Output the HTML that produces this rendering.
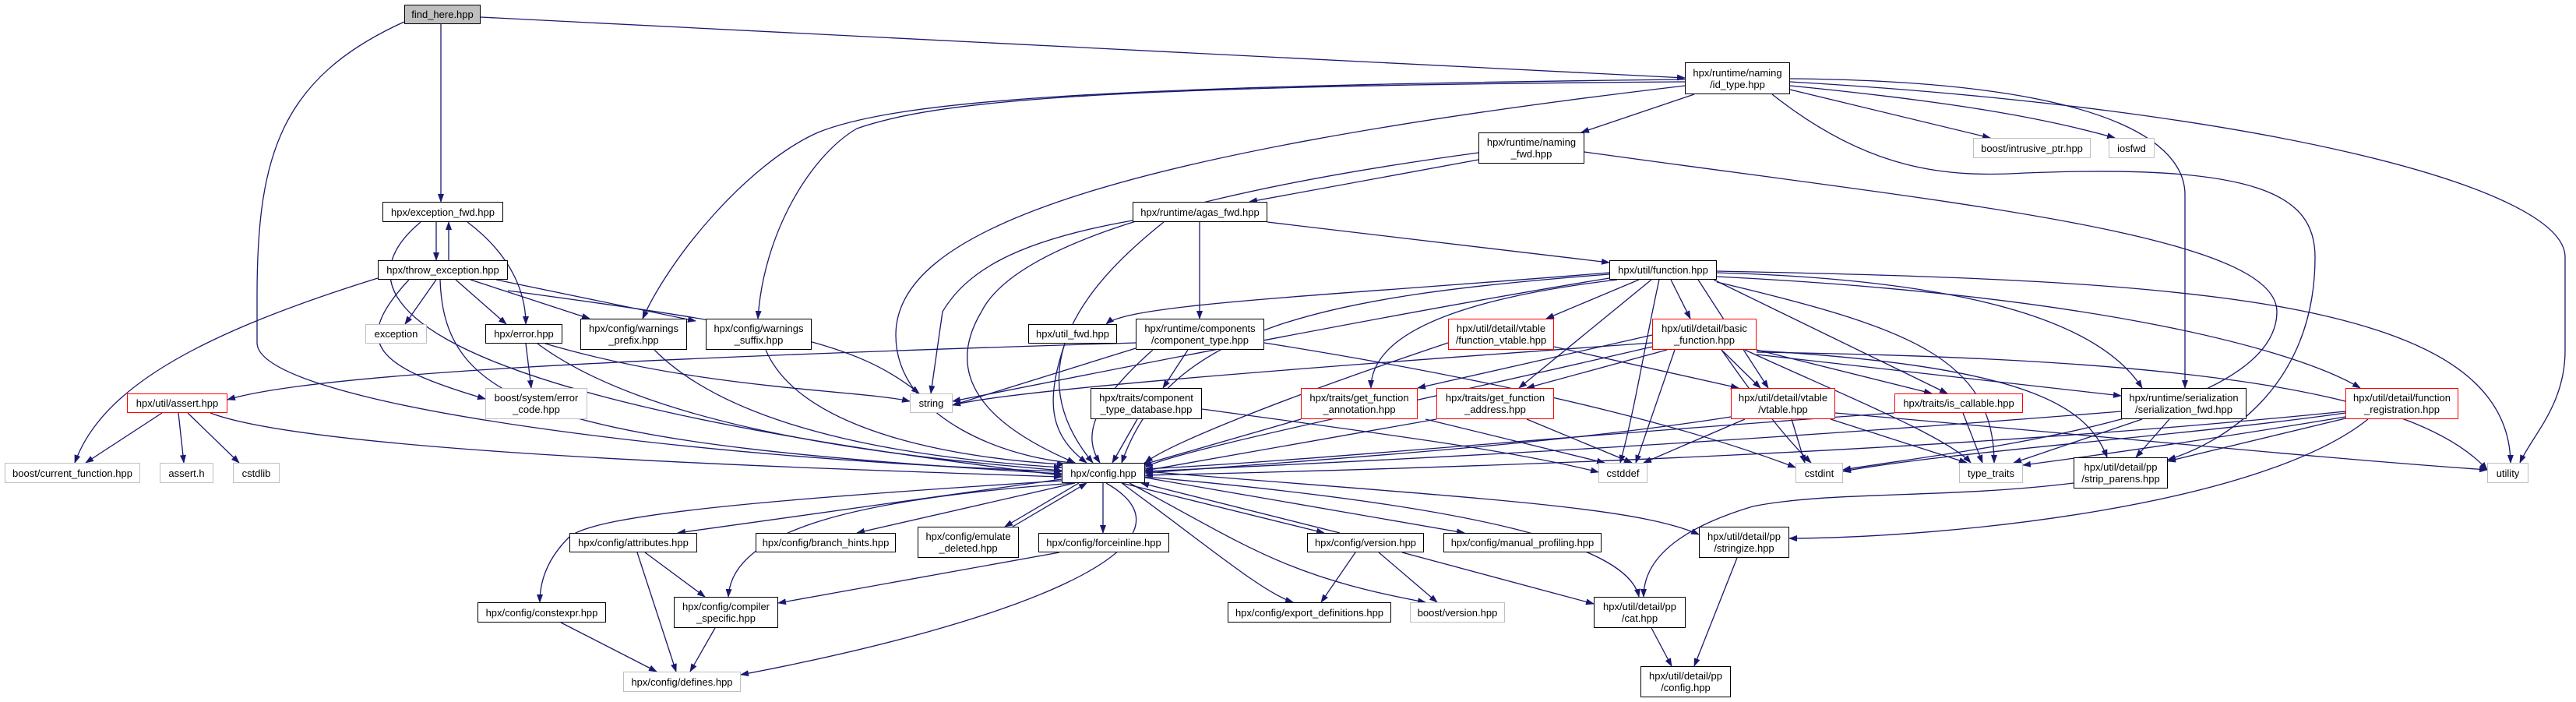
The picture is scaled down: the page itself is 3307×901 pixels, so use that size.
<!DOCTYPE html>
<html><head><meta charset="utf-8"><style>
html,body{margin:0;padding:0;background:#fff;}
body{width:3307px;height:901px;position:relative;overflow:hidden;font-family:"Liberation Sans",sans-serif;}
.n{position:absolute;box-sizing:border-box;border:1.5px solid #000;background:#fff;display:flex;align-items:center;justify-content:center;text-align:center;font-size:13px;line-height:15px;color:#000;white-space:nowrap;}
.g{border-color:#bfbfbf;}
.r{border-color:#ff0000;}
svg{position:absolute;left:0;top:0;}
</style></head><body>
<svg width="3307" height="901" viewBox="0 0 3307 901">
<defs><marker id="a" markerWidth="11" markerHeight="8" refX="10" refY="4" orient="auto" markerUnits="userSpaceOnUse"><path d="M0,0 L11,4 L0,8 z" fill="#191970"/></marker></defs>
<g fill="none" stroke="#191970" stroke-width="1.3" marker-end="url(#a)">
<path d="M566,31 L566,259"/>
<path d="M519,28 C360,100 330,200 330,380 L330,440 C330,520 900,590 1363,605"/>
<path d="M617,22 L2163,100"/>
<path d="M560,285 L560,334"/><path d="M576,334 L576,285"/>
<path d="M600,285 C660,330 675,380 675,416"/>
<path d="M540,285 C450,360 440,500 1363,610"/>
<path d="M560,359 L520,416"/><path d="M585,359 L650,416"/>
<path d="M604,359 L757,409"/><path d="M637,359 L893,412"/>
<path d="M652,373 C1000,420 1100,440 1180,505"/>
<path d="M485,357 C250,430 130,500 96,594"/>
<path d="M525,359 C450,440 480,470 623,512"/>
<path d="M565,359 C570,520 700,570 1363,608"/>
<path d="M675,441 L682,498"/>
<path d="M700,441 C900,500 1100,500 1168,515"/>
<path d="M690,441 C850,560 1200,590 1363,604"/>
<path d="M840,449 C950,560 1200,590 1363,600"/>
<path d="M983,449 C1030,560 1250,590 1367,596"/>
<path d="M208,530 L110,594"/><path d="M229,530 L236,594"/><path d="M241,530 L307,594"/>
<path d="M270,530 C400,580 1000,600 1363,612"/>
<path d="M2298,115 L2555,177"/>
<path d="M2298,110 C2500,130 2620,150 2715,177"/>
<path d="M2175,121 L2030,170"/>
<path d="M2163,102 C1400,110 1150,130 1050,170 C960,210 860,330 825,409"/>
<path d="M2163,105 C1400,110 1200,130 1100,165 C1040,200 980,300 973,409"/>
<path d="M2163,110 C1400,200 1150,300 1150,430 C1150,540 1300,590 1380,594"/>
<path d="M2298,101 C2750,105 2805,200 2805,250 L2805,498"/>
<path d="M2275,121 C2400,220 2500,228 2600,222 C2900,210 2972,250 2972,330 C2972,500 2850,570 2783,590"/>
<path d="M2298,105 C2900,140 3293,240 3293,330 L3293,450 C3293,520 3250,560 3235,594"/>
<path d="M1898,205 L1604,259"/>
<path d="M1898,196 C1500,250 1300,320 1260,400 C1200,500 1300,560 1380,594"/>
<path d="M2034,195 C2500,260 2923,300 2923,400 C2923,540 2500,580 2366,603"/>
<path d="M1454,283 C1300,310 1240,350 1210,400 L1195,505"/>
<path d="M1627,285 L2066,337"/>
<path d="M1540,285 L1540,409"/>
<path d="M1494,285 C1400,360 1300,470 1403,594"/>
<path d="M2066,350 C1700,380 1450,390 1420,416"/>
<path d="M2104,359 L1985,409"/><path d="M2145,359 L2170,409"/>
<path d="M2066,352 C1700,380 1500,420 1440,594"/>
<path d="M2076,359 C1900,380 1760,420 1760,498"/>
<path d="M2120,359 L1950,498"/><path d="M2180,359 L2270,498"/><path d="M2200,359 L2500,505"/>
<path d="M2204,350 C2550,360 2700,420 2750,498"/>
<path d="M2204,355 C2700,380 2950,450 3030,498"/>
<path d="M2204,348 C2800,360 3220,380 3223,594"/>
<path d="M2130,359 C2110,450 2100,520 2080,594"/>
<path d="M2204,362 C2450,420 2560,460 2560,594"/>
<path d="M2066,357 C1800,400 1400,480 1223,515"/>
<path d="M1367,441 C1340,520 1350,560 1395,594"/>
<path d="M1458,447 L1223,520"/><path d="M1525,449 L1493,498"/>
<path d="M1480,449 C1400,520 1390,560 1412,594"/>
<path d="M1623,440 C2000,500 2200,560 2305,600"/>
<path d="M1458,440 C800,460 400,480 292,513"/>
<path d="M1859,440 C1650,510 1500,570 1470,594"/>
<path d="M1995,445 L2232,498"/>
<path d="M2121,440 C1700,470 1300,500 1223,520"/>
<path d="M2121,445 C1800,520 1500,580 1470,600"/>
<path d="M2121,430 L1820,498"/><path d="M2140,449 L1960,498"/><path d="M2210,449 L2260,498"/>
<path d="M2255,449 L2480,505"/><path d="M2255,455 L2723,508"/><path d="M2150,449 L2100,594"/>
<path d="M2210,449 C2260,520 2290,560 2325,594"/>
<path d="M2240,449 C2350,500 2500,560 2530,594"/>
<path d="M2255,450 C2600,470 2680,520 2705,587"/>
<path d="M2255,452 C2800,460 3100,500 3193,603"/>
<path d="M1460,538 L1428,594"/>
<path d="M1543,525 C1800,560 1950,580 2052,606"/>
<path d="M1670,538 L1465,597"/><path d="M1830,538 L2060,594"/>
<path d="M1844,538 L1470,604"/><path d="M1960,538 L2095,594"/>
<path d="M2222,535 C2000,570 1700,590 1470,607"/>
<path d="M2240,538 L2110,594"/><path d="M2300,538 L2317,594"/><path d="M2350,538 L2525,594"/>
<path d="M2356,530 C2700,560 3000,590 3193,603"/>
<path d="M2520,530 L2545,594"/>
<path d="M2432,530 C2000,560 1700,590 1470,602"/>
<path d="M2723,528 C2200,570 1800,590 1470,605"/>
<path d="M2750,538 L2585,594"/><path d="M2785,538 L2742,587"/>
<path d="M3011,528 C2500,580 1900,600 1470,610"/>
<path d="M3011,530 C2800,560 2500,580 2366,605"/>
<path d="M3011,535 C2800,570 2650,590 2597,597"/>
<path d="M3011,537 L2783,592"/>
<path d="M3040,538 C2900,650 2500,690 2297,691"/>
<path d="M2662,620 C2500,640 2350,630 2250,650 C2150,680 2110,720 2110,766"/>
<path d="M1363,615 L870,684"/><path d="M1380,620 L1100,684"/>
<path d="M1385,620 L1290,676"/><path d="M1300,676 L1395,620"/>
<path d="M1416,620 L1416,684"/>
<path d="M1440,620 L1700,684"/><path d="M1720,684 L1465,620"/>
<path d="M1470,613 L1880,684"/>
<path d="M1470,605 C1900,640 2100,650 2181,686"/>
<path d="M1363,617 C1000,640 760,660 730,690 C700,720 693,750 693,773"/>
<path d="M1380,620 C1100,640 940,680 935,766"/>
<path d="M1440,620 C1550,700 1620,760 1660,773"/>
<path d="M1450,620 C1600,700 1650,740 1830,773"/>
<path d="M1470,612 C1900,650 2090,700 2104,766"/>
<path d="M1420,620 C1560,700 1300,800 951,866"/>
<path d="M828,709 L905,766"/><path d="M818,709 L868,862"/>
<path d="M1360,709 L999,774"/>
<path d="M720,799 L843,862"/><path d="M918,806 L886,862"/>
<path d="M1740,709 L1696,773"/><path d="M1770,709 L1845,773"/><path d="M1800,709 L2046,775"/>
<path d="M2120,806 L2146,855"/><path d="M2230,716 L2175,855"/>
</g>
</svg>
<div class="n" style="left:519px;top:6px;width:98px;height:25px;background:#bfbfbf">find_here.hpp</div>
<div class="n" style="left:2163px;top:80px;width:135px;height:41px">hpx/runtime/naming<br>/id_type.hpp</div>
<div class="n g" style="left:2533px;top:177px;width:151px;height:26px">boost/intrusive_ptr.hpp</div>
<div class="n g" style="left:2707px;top:177px;width:59px;height:26px">iosfwd</div>
<div class="n" style="left:1898px;top:170px;width:136px;height:40px">hpx/runtime/naming<br>_fwd.hpp</div>
<div class="n" style="left:1454px;top:259px;width:173px;height:26px">hpx/runtime/agas_fwd.hpp</div>
<div class="n" style="left:491px;top:259px;width:155px;height:26px">hpx/exception_fwd.hpp</div>
<div class="n" style="left:485px;top:334px;width:167px;height:25px">hpx/throw_exception.hpp</div>
<div class="n g" style="left:469px;top:416px;width:79px;height:25px">exception</div>
<div class="n" style="left:623px;top:416px;width:99px;height:25px">hpx/error.hpp</div>
<div class="n" style="left:745px;top:409px;width:137px;height:40px">hpx/config/warnings<br>_prefix.hpp</div>
<div class="n" style="left:906px;top:409px;width:136px;height:40px">hpx/config/warnings<br>_suffix.hpp</div>
<div class="n" style="left:2066px;top:334px;width:138px;height:25px">hpx/util/function.hpp</div>
<div class="n" style="left:1320px;top:416px;width:114px;height:25px">hpx/util_fwd.hpp</div>
<div class="n" style="left:1458px;top:409px;width:165px;height:40px">hpx/runtime/components<br>/component_type.hpp</div>
<div class="n r" style="left:1859px;top:409px;width:136px;height:40px">hpx/util/detail/vtable<br>/function_vtable.hpp</div>
<div class="n r" style="left:2121px;top:409px;width:134px;height:40px">hpx/util/detail/basic<br>_function.hpp</div>
<div class="n r" style="left:163px;top:505px;width:129px;height:25px">hpx/util/assert.hpp</div>
<div class="n g" style="left:623px;top:498px;width:131px;height:40px">boost/system/error<br>_code.hpp</div>
<div class="n g" style="left:6px;top:594px;width:174px;height:26px">boost/current_function.hpp</div>
<div class="n g" style="left:205px;top:594px;width:69px;height:26px">assert.h</div>
<div class="n g" style="left:299px;top:594px;width:60px;height:26px">cstdlib</div>
<div class="n g" style="left:1168px;top:505px;width:55px;height:25px">string</div>
<div class="n" style="left:1400px;top:498px;width:143px;height:40px">hpx/traits/component<br>_type_database.hpp</div>
<div class="n r" style="left:1670px;top:498px;width:150px;height:40px">hpx/traits/get_function<br>_annotation.hpp</div>
<div class="n r" style="left:1844px;top:498px;width:151px;height:40px">hpx/traits/get_function<br>_address.hpp</div>
<div class="n r" style="left:2222px;top:498px;width:134px;height:40px">hpx/util/detail/vtable<br>/vtable.hpp</div>
<div class="n r" style="left:2432px;top:505px;width:165px;height:25px">hpx/traits/is_callable.hpp</div>
<div class="n" style="left:2723px;top:498px;width:161px;height:40px">hpx/runtime/serialization<br>/serialization_fwd.hpp</div>
<div class="n r" style="left:3011px;top:498px;width:145px;height:40px">hpx/util/detail/function<br>_registration.hpp</div>
<div class="n" style="left:1363px;top:594px;width:107px;height:26px">hpx/config.hpp</div>
<div class="n g" style="left:2052px;top:594px;width:63px;height:26px">cstddef</div>
<div class="n g" style="left:2305px;top:594px;width:61px;height:26px">cstdint</div>
<div class="n g" style="left:2515px;top:594px;width:82px;height:26px">type_traits</div>
<div class="n" style="left:2662px;top:587px;width:121px;height:40px">hpx/util/detail/pp<br>/strip_parens.hpp</div>
<div class="n g" style="left:3193px;top:594px;width:53px;height:26px">utility</div>
<div class="n" style="left:731px;top:684px;width:164px;height:25px">hpx/config/attributes.hpp</div>
<div class="n" style="left:970px;top:684px;width:180px;height:25px">hpx/config/branch_hints.hpp</div>
<div class="n" style="left:1178px;top:676px;width:130px;height:40px">hpx/config/emulate<br>_deleted.hpp</div>
<div class="n" style="left:1333px;top:684px;width:168px;height:25px">hpx/config/forceinline.hpp</div>
<div class="n" style="left:1678px;top:684px;width:150px;height:25px">hpx/config/version.hpp</div>
<div class="n" style="left:1853px;top:684px;width:203px;height:25px">hpx/config/manual_profiling.hpp</div>
<div class="n" style="left:2181px;top:676px;width:116px;height:40px">hpx/util/detail/pp<br>/stringize.hpp</div>
<div class="n" style="left:613px;top:773px;width:165px;height:26px">hpx/config/constexpr.hpp</div>
<div class="n" style="left:865px;top:766px;width:134px;height:40px">hpx/config/compiler<br>_specific.hpp</div>
<div class="n" style="left:1576px;top:773px;width:210px;height:26px">hpx/config/export_definitions.hpp</div>
<div class="n g" style="left:1810px;top:773px;width:122px;height:26px">boost/version.hpp</div>
<div class="n" style="left:2046px;top:766px;width:118px;height:40px">hpx/util/detail/pp<br>/cat.hpp</div>
<div class="n g" style="left:800px;top:862px;width:151px;height:26px">hpx/config/defines.hpp</div>
<div class="n" style="left:2106px;top:855px;width:116px;height:40px">hpx/util/detail/pp<br>/config.hpp</div>
</body></html>
